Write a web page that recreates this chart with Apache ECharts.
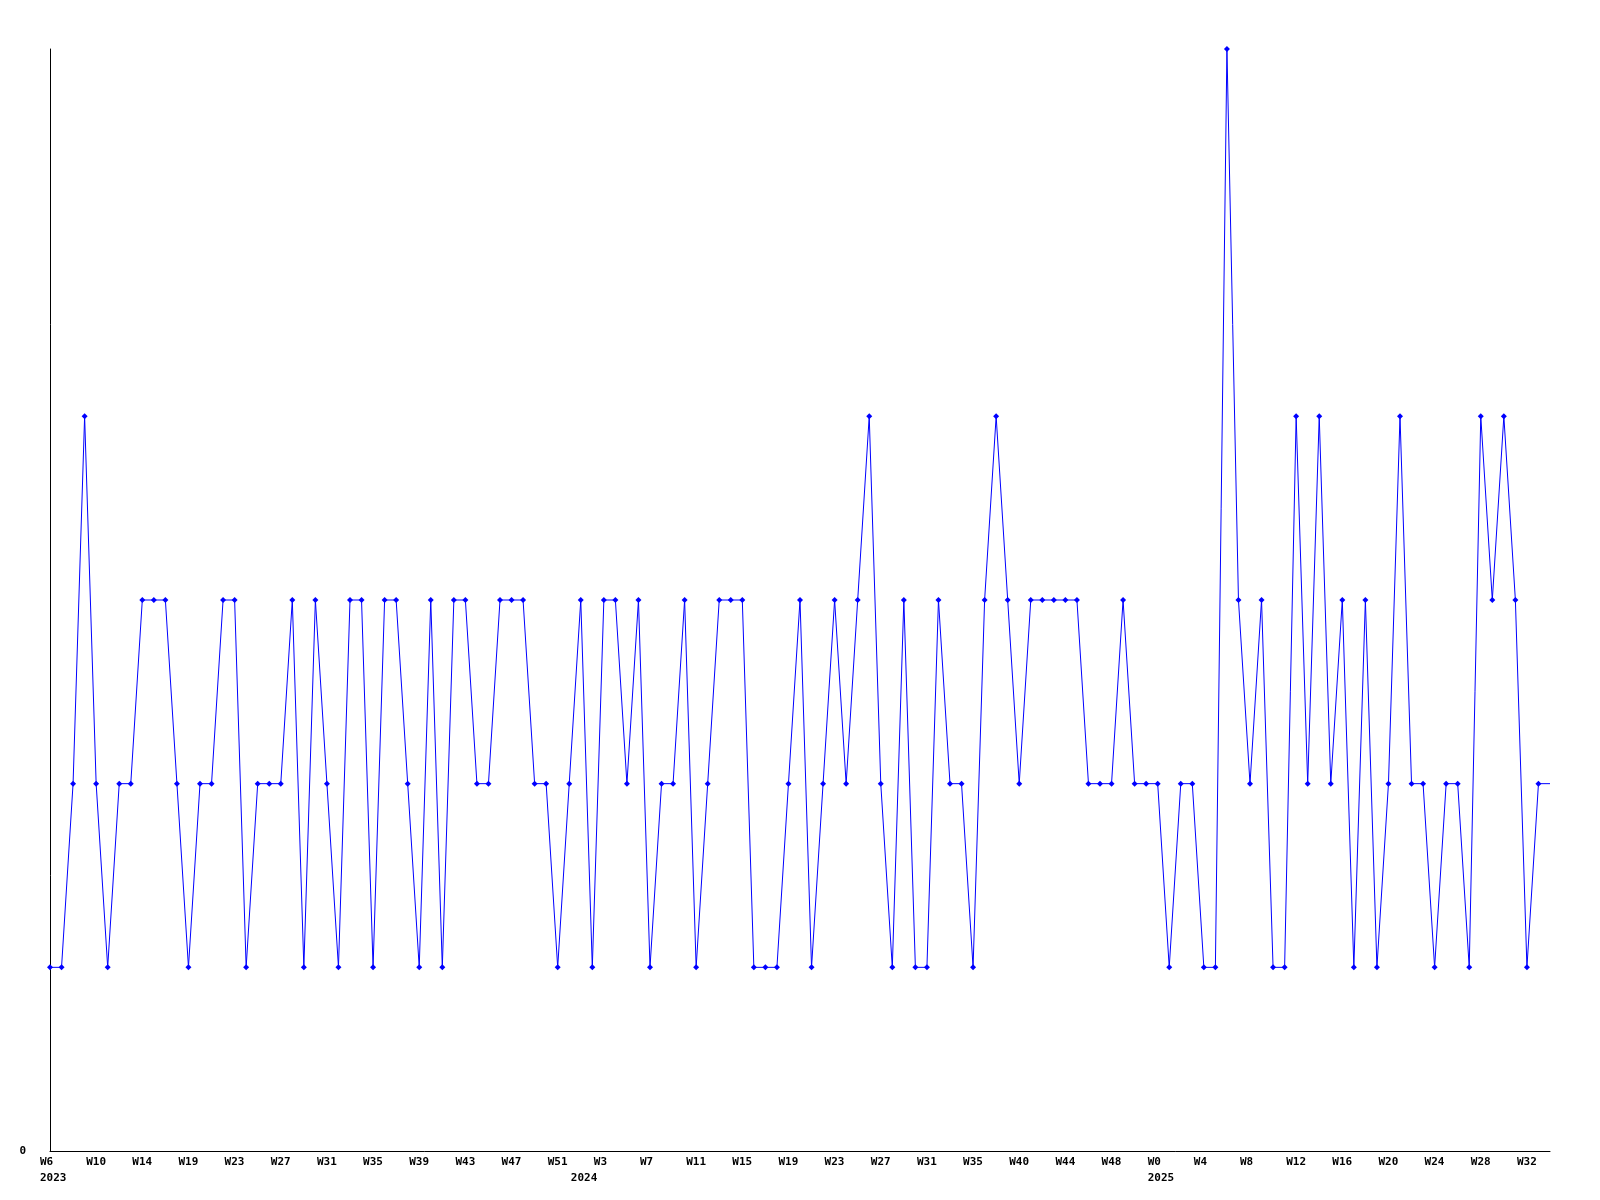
<!DOCTYPE html>
<html>
<head>
<meta charset="utf-8">
<script src="https://cdn.jsdelivr.net/npm/echarts@6/dist/echarts.min.js"></script>
<style>html,body{margin:0;padding:0;background:#fff}#c{width:1600px;height:1200px}</style>
</head>
<body>
<div id="c"></div>
<script>
// Week numbers per year (categories)
const weeks2023 = [6,7,8,9,10,11,12,13,14,15,16,17,19,20,21,22,23,24,25,26,27,28,29,30,31,32,33,34,35,36,37,38,39,40,41,42,43,44,45,46,47,48,49,50,51,52];
const weeks2024 = [1,2,3,4,5,6,7,8,9,10,11,12,13,14,15,16,17,18,19,20,21,22,23,24,25,26,27,28,29,30,31,32,33,34,35,36,37,38,40,41,42,43,44,45,46,47,48,49,50,51];
const weeks2025 = [0,1,2,3,4,5,6,7,8,9,10,11,12,13,14,15,16,17,18,19,20,21,22,23,24,25,26,27,28,29,30,31,32,33,34];
const years = ['2023','2024','2025'];
const yTickLabels = ['0'];

// Series values
const values = [
  1,1,2,4,2,1,2,2,3,3,
  3,2,1,2,2,3,3,1,2,2,
  2,3,1,3,2,1,3,3,1,3,
  3,2,1,3,1,3,3,2,2,3,
  3,3,2,2,1,2,3,1,3,3,
  2,3,1,2,2,3,1,2,3,3,
  3,1,1,1,2,3,1,2,3,2,
  3,4,2,1,3,1,1,3,2,2,
  1,3,4,3,2,3,3,3,3,3,
  2,2,2,3,2,2,2,1,2,2,
  1,1,6,3,2,3,1,1,4,2,
  4,2,3,1,3,1,2,4,2,2,
  1,2,2,1,4,3,4,3,1,2,
  2
];

const categories = [];
const yearOf = [];
const weekOf = [];
[weeks2023, weeks2024, weeks2025].forEach((ws, yi) => {
  ws.forEach(w => { categories.push(years[yi] + '-W' + w); yearOf.push(years[yi]); weekOf.push('W' + w); });
});

const font = { fontFamily: 'DejaVu Sans Mono', fontWeight: 'bold', fontSize: 11, color: '#000' };

const chart = echarts.init(document.getElementById('c'), null, { renderer: 'canvas' });
chart.setOption({
  animation: false,
  backgroundColor: '#fff',
  grid: { left: 50, right: 50, top: 49, bottom: 49, containLabel: false },
  xAxis: [
    {
      type: 'category', data: categories, boundaryGap: false, position: 'bottom',
      axisLine: { show: true, lineStyle: { color: '#000', width: 1 } },
      axisTick: { show: false },
      splitLine: { show: false },
      axisLabel: {
        interval: 3, margin: 6, align: 'center',
        formatter: (v, i) => '{a|' + weekOf[i] + '}',
        rich: { a: Object.assign({ width: 20, align: 'left' }, font) }
      }
    },
    {
      type: 'category', data: categories, boundaryGap: false, position: 'bottom', offset: 16,
      axisLine: { show: false }, axisTick: { show: false }, splitLine: { show: false },
      axisLabel: {
        interval: 0, margin: 6, align: 'center',
        formatter: (v, i) => (i === 0 || yearOf[i] !== yearOf[i - 1]) ? '{a|' + yearOf[i] + '}' : '',
        rich: { a: Object.assign({ width: 20, align: 'left' }, font) }
      }
    }
  ],
  yAxis: {
    type: 'value', min: 0, max: 6, interval: 6,
    axisLine: { show: true, lineStyle: { color: '#000', width: 1 } },
    axisTick: { show: false },
    splitLine: { show: false },
    axisLabel: Object.assign({ margin: 24, formatter: v => yTickLabels.indexOf(String(v)) >= 0 ? String(v) : '' }, font)
  },
  series: [{
    type: 'line',
    data: values,
    xAxisIndex: 0,
    showAllSymbol: true,
    symbol: (v, p) => p.dataIndex === values.length - 1 ? 'none' : 'diamond',
    symbolSize: 6,
    lineStyle: { color: '#0000ff', width: 1 },
    itemStyle: { color: '#0000ff' },
    clip: true
  }]
});
</script>
</body>
</html>
